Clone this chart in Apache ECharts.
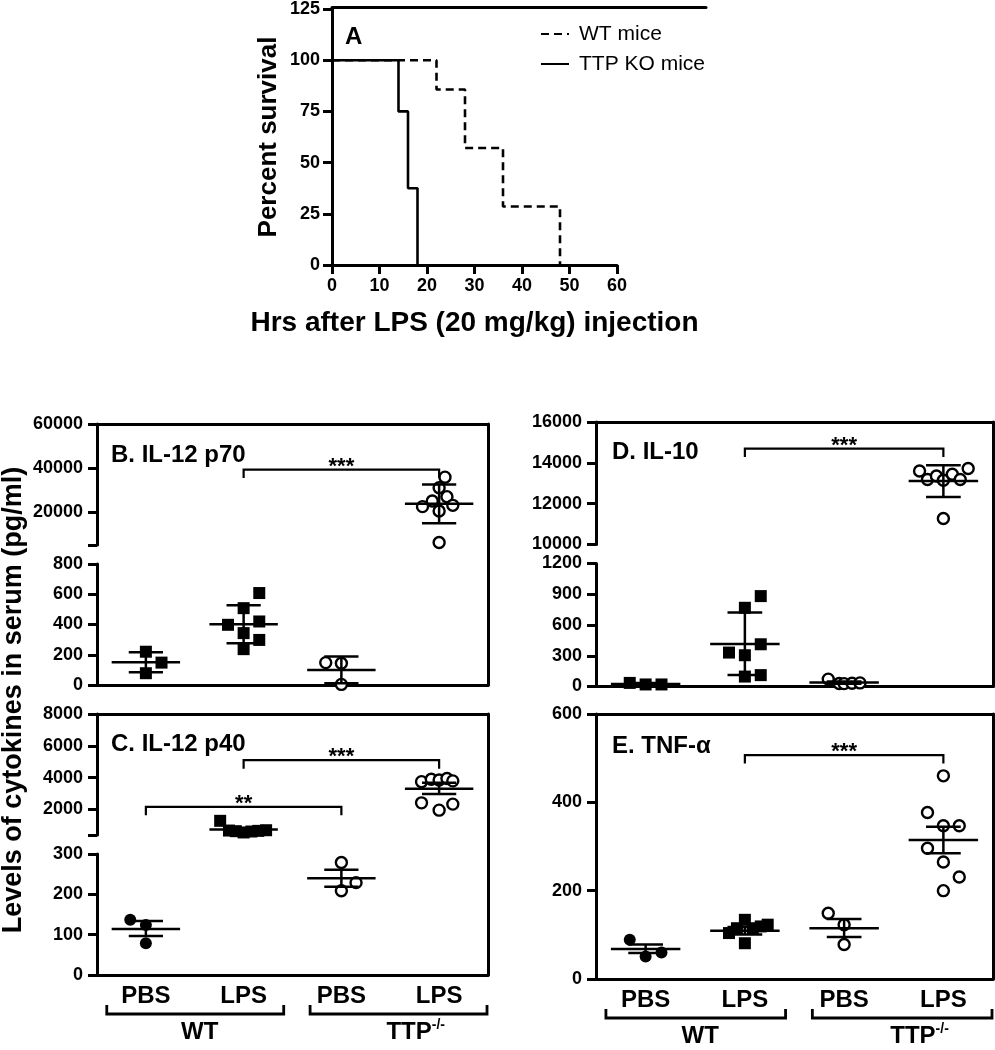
<!DOCTYPE html>
<html><head><meta charset="utf-8">
<script src="https://cdn.jsdelivr.net/npm/echarts@6/dist/echarts.min.js"></script>
<style>html,body{margin:0;padding:0;background:#fff}#c{width:995px;height:1050px}</style>
</head><body><div id="c"></div>
<script>
// ================= DATA =================
const categoryLabels = ['PBS', 'LPS', 'PBS', 'LPS'];
const genotypeLabels = ['WT', 'TTP'];
const genotypeSup = ['', '-/-'];
const genotypeSpan = [[0.60, 2.41, 1.55], [2.68, 4.49, 3.76]]; // from, to, label centre (category units)

// Panel A: survival
const wtHours = [0, 22, 28, 36, 48];
const wtSurvival = [100, 85.7, 57.1, 28.6, 0];
const koHours = [0, 14, 16, 18];
const koSurvival = [100, 75, 37.5, 0];

// Panel B: IL-12 p70
const p70Values = [
  [220, 148, 78],
  [608, 508, 398, 420, 343, 298, 237],
  [148, 144, 4],
  [35840, 31040, 24980, 26970, 22440, 23030, 20450, 6150]
];
const p70Jitter = [
  [0, 0.16, 0],
  [0.16, 0, -0.16, 0.16, 0, 0.16, 0],
  [-0.16, 0, 0],
  [0.06, 0, -0.07, 0.08, -0.17, 0.14, 0, 0]
];
const p70Mean = [150, 402, 99, 23800];
const p70Low = [84, 276, 12, 14890];
const p70High = [217, 528, 188, 32540];
const p70UpperTicks = [5000, 20000, 40000, 60000];
const p70UpperLabels = [20000, 40000, 60000];
const p70Sig = [[2, 4, 39300, '***']];

// Panel C: IL-12 p40
const p40Values = [
  [137, 124, 79],
  [1290, 680, 640, 560, 620, 660, 700],
  [279, 229, 209],
  [3750, 3900, 3850, 3950, 3800, 2420, 1960, 2340]
];
const p40Jitter = [
  [-0.16, 0, 0],
  [-0.24, -0.15, -0.08, 0, 0.08, 0.15, 0.23],
  [0, 0.15, 0],
  [-0.18, -0.08, 0, 0.08, 0.14, -0.18, 0, 0.14]
];
const p40Mean = [114, 740, 240, 3306];
const p40Low = [97, 650, 219, 2970];
const p40High = [134, 830, 261, 3685];
const p40UpperTicks = [400, 2000, 4000, 6000, 8000];
const p40UpperLabels = [2000, 4000, 6000, 8000];
const p40Sig = [[2, 4, 5100, '***'], [1, 3, 2170, '**']];

// Panel D: IL-10
const il10Values = [
  [35, 20, 20],
  [882, 768, 412, 331, 305, 97, 111],
  [72, 30, 28, 32, 35],
  [13602, 13181, 13357, 13147, 13440, 13181, 13719, 11272]
];
const il10Jitter = [
  [-0.16, 0, 0.16],
  [0.16, 0, 0.16, -0.16, 0, 0, 0.16],
  [-0.16, -0.05, 0, 0.08, 0.16],
  [-0.24, -0.16, -0.07, 0, 0.09, 0.17, 0.25, 0]
];
const il10Mean = [25, 415, 39, 13113];
const il10Low = [17, 111, 28, 12330];
const il10High = [33, 723, 50, 13881];
const il10Sig = [[2, 4, 14700, '***']];

// Panel E: TNF-alpha
const tnfValues = [
  [89, 51, 60],
  [104, 115, 134, 81, 115, 119, 123],
  [149, 123, 78],
  [460, 377, 347, 347, 296, 265, 231, 200]
];
const tnfJitter = [
  [-0.16, 0, 0.16],
  [-0.16, -0.08, 0, 0, 0.08, 0.16, 0.23],
  [-0.16, 0, 0],
  [0, -0.16, 0, 0.16, -0.16, 0, 0.16, 0]
];
const tnfMean = [68, 109, 115, 315];
const tnfLow = [59, 101, 95, 285];
const tnfHigh = [78, 118, 136, 345];
const tnfSig = [[2, 4, 507, '***']];

// ================= STYLE / HELPERS =================
const FF = "'Liberation Sans', Arial, sans-serif";
const BLACK = '#000';
const plain = v => String(v);
const axLine = { show: true, onZero: false, lineStyle: { color: BLACK, width: 3 } };
const noLine = { show: false };
const axTick = { show: true, length: 9, lineStyle: { color: BLACK, width: 3 } };
const axLab = { show: true, color: BLACK, fontSize: 18, fontWeight: 'bold', fontFamily: FF, margin: 14, formatter: plain };
const noSplit = { show: false };

const FILL_SQ = { symbol: 'rect', symbolSize: 12, itemStyle: { color: BLACK, opacity: 1 } };
const FILL_CI = { symbol: 'circle', symbolSize: 12, itemStyle: { color: BLACK, opacity: 1 } };
const OPEN_CI = { symbol: 'circle', symbolSize: 11, itemStyle: { color: '#fff', borderColor: BLACK, borderWidth: 2.4, opacity: 1 } };

function errRender(params, api) {
  const x = api.value(0), m = api.value(1), lo = api.value(2), hi = api.value(3);
  const a = api.coord([x - 0.35, m]), b = api.coord([x + 0.35, m]);
  const t = api.coord([x, hi]), bt = api.coord([x, lo]);
  const c1 = api.coord([x - 0.175, hi]), c2 = api.coord([x + 0.175, hi]);
  const d1 = api.coord([x - 0.175, lo]), d2 = api.coord([x + 0.175, lo]);
  const st = { stroke: BLACK, lineWidth: 2.5 };
  return { type: 'group', children: [
    { type: 'line', shape: { x1: a[0], y1: a[1], x2: b[0], y2: b[1] }, style: st },
    { type: 'line', shape: { x1: t[0], y1: t[1], x2: bt[0], y2: bt[1] }, style: st },
    { type: 'line', shape: { x1: c1[0], y1: c1[1], x2: c2[0], y2: c2[1] }, style: st },
    { type: 'line', shape: { x1: d1[0], y1: d1[1], x2: d2[0], y2: d2[1] }, style: st }
  ]};
}

function sigRender(params, api) {
  const x1 = api.value(0), x2 = api.value(1), y = api.value(2);
  const p1 = api.coord([x1, y]), p2 = api.coord([x2, y]);
  const drop = 8.5;
  const txt = params.context.sigText[params.dataIndex];
  return { type: 'group', children: [
    { type: 'polyline', shape: { points: [[p1[0], p1[1] + drop], [p1[0], p1[1]], [p2[0], p2[1]], [p2[0], p2[1] + drop]] },
      style: { stroke: BLACK, lineWidth: 2.2, fill: null } },
    { type: 'text', style: { text: txt, x: (p1[0] + p2[0]) / 2, y: p1[1] - 3, align: 'center', verticalAlign: 'middle',
      font: 'bold 22px ' + FF, fill: BLACK } }
  ]};
}

function groupRender(params, api) {
  const i = params.dataIndex;
  const p1 = api.coord([api.value(0), 0]), p2 = api.coord([api.value(1), 0]), pl = api.coord([api.value(2), 0]);
  const base = p1[1];
  const top = base + 30, bot = base + 39;
  const text = '{g|' + genotypeLabels[i] + '}' + (genotypeSup[i] ? '{s|' + genotypeSup[i] + '}' : '');
  return { type: 'group', children: [
    { type: 'polyline', shape: { points: [[p1[0], top], [p1[0], bot], [p2[0], bot], [p2[0], top]] },
      style: { stroke: BLACK, lineWidth: 2.8, fill: null } },
    { type: 'text', style: { text: text, x: pl[0], y: base + 57, align: 'center', verticalAlign: 'middle',
      rich: { g: { fontSize: 24, fontWeight: 'bold', fontFamily: FF, fill: BLACK, lineHeight: 28 },
              s: { fontSize: 14, fontWeight: 'bold', fontFamily: FF, fill: BLACK, lineHeight: 28, verticalAlign: 'top' } } } }
  ]};
}

function buildPanel(p) {
  const series = [];
  for (let g = 0; g < 4; g++) {
    const cat = g + 1;
    const all = p.values[g].map((v, i) => [cat + p.jitter[g][i], v]);
    const up = all.filter(d => d[1] > p.split);
    const lo = all.filter(d => d[1] <= p.split);
    if (up.length) series.push(Object.assign({ type: 'scatter', xAxisIndex: p.ux, yAxisIndex: p.uy, data: up, z: 3, silent: true }, p.marks[g]));
    if (lo.length) series.push(Object.assign({ type: 'scatter', xAxisIndex: p.lx, yAxisIndex: p.ly, data: lo, z: 3, silent: true }, p.marks[g]));
  }
  const eb = [0, 1, 2, 3].map(g => [g + 1, p.mean[g], p.low[g], p.high[g]]);
  const ebUp = eb.filter(d => d[1] > p.split), ebLo = eb.filter(d => d[1] <= p.split);
  if (ebUp.length) series.push({ type: 'custom', renderItem: errRender, xAxisIndex: p.ux, yAxisIndex: p.uy, data: ebUp, z: 4, clip: false, silent: true, encode: { x: 0, y: 1 } });
  if (ebLo.length) series.push({ type: 'custom', renderItem: errRender, xAxisIndex: p.lx, yAxisIndex: p.ly, data: ebLo, z: 4, clip: false, silent: true, encode: { x: 0, y: 1 } });
  const sigUp = p.sig.filter(s => s[2] > p.split), sigLo = p.sig.filter(s => s[2] <= p.split);
  [[sigUp, p.ux, p.uy], [sigLo, p.lx, p.ly]].forEach(([arr, xi, yi]) => {
    if (!arr.length) return;
    const texts = arr.map(s => s[3]);
    series.push({ type: 'custom', xAxisIndex: xi, yAxisIndex: yi, clip: false, silent: true, z: 5,
      data: arr.map(s => [s[0], s[1], s[2]]), encode: { x: 0, y: 2 },
      renderItem: function (params, api) { params.context.sigText = texts; return sigRender(params, api); } });
  });
  if (p.groups) {
    series.push({ type: 'custom', xAxisIndex: p.lx, yAxisIndex: p.ly, clip: false, silent: true, z: 5,
      data: genotypeSpan, encode: { x: 0 }, renderItem: groupRender });
  }
  return series;
}

// ================= LAYOUT =================
const grids = [
  { left: 332, top: 7, width: 285, height: 258 },        // 0 A
  { left: 97, top: 424, width: 391, height: 121 },       // 1 B upper
  { left: 97, top: 564, width: 391, height: 121 },       // 2 B lower
  { left: 97, top: 424, width: 391, height: 261 },       // 3 B frame
  { left: 97, top: 714, width: 391, height: 121 },       // 4 C upper
  { left: 97, top: 854, width: 391, height: 121 },       // 5 C lower
  { left: 97, top: 714, width: 391, height: 261 },       // 6 C frame
  { left: 596, top: 422, width: 397, height: 122.5 },    // 7 D upper
  { left: 596, top: 563.5, width: 397, height: 123 },    // 8 D lower
  { left: 596, top: 422, width: 397, height: 264.5 },    // 9 D frame
  { left: 596, top: 714, width: 397, height: 265 },      // 10 E
  { left: 332, top: 7, width: 374, height: 258 }         // 11 A top rule (spans the legend too)
];

function catX(grid, opts) {
  return Object.assign({ type: 'value', gridIndex: grid, min: 0.5, max: 4.5, axisLine: noLine, axisTick: { show: false },
    axisLabel: { show: false }, splitLine: noSplit }, opts || {});
}
const catLabels = Object.assign({}, axLab, { fontSize: 24, margin: 9, customValues: [1, 2, 3, 4],
  formatter: v => categoryLabels[Math.round(v) - 1] });

const xNameStyle = { fontSize: 28, fontWeight: 'bold', fontFamily: FF, color: BLACK };
const yNameStyle = { fontSize: 26, fontWeight: 'bold', fontFamily: FF, color: BLACK };
const xAxes = [
  { type: 'value', gridIndex: 0, min: 0, max: 60, interval: 10, axisLine: axLine, axisTick: axTick,
    axisLabel: Object.assign({}, axLab, { margin: 12 }), splitLine: noSplit,
    name: 'Hrs after LPS (20 mg/kg) injection', nameLocation: 'middle', nameGap: 44, nameTextStyle: xNameStyle },   // 0
  { type: 'value', gridIndex: 11, position: 'top', min: 0, max: 1, axisLine: axLine, axisTick: { show: false }, axisLabel: { show: false }, splitLine: noSplit }, // 1
  catX(1),                                             // 2 B upper
  catX(2, { axisLine: axLine }),                       // 3 B lower
  catX(3, { position: 'top', axisLine: axLine }),      // 4 B frame
  catX(4),                                             // 5 C upper
  catX(5, { axisLine: axLine, axisLabel: catLabels }), // 6 C lower
  catX(6, { position: 'top', axisLine: axLine }),      // 7 C frame
  catX(7),                                             // 8 D upper
  catX(8, { axisLine: axLine }),                       // 9 D lower
  catX(9, { position: 'top', axisLine: axLine }),      // 10 D frame
  catX(10, { axisLine: axLine, axisLabel: catLabels }),// 11 E bottom
  catX(10, { position: 'top', axisLine: axLine })      // 12 E top
];

function valY(grid, min, max, interval, extra) {
  return Object.assign({ type: 'value', gridIndex: grid, min: min, max: max, interval: interval,
    axisLine: axLine, axisTick: axTick, axisLabel: axLab, splitLine: noSplit }, extra || {});
}
function frameY(grid) {
  return { type: 'value', gridIndex: grid, position: 'right', min: 0, max: 1, axisLine: axLine,
    axisTick: { show: false }, axisLabel: { show: false }, splitLine: noSplit };
}

const yAxes = [
  valY(0, 0, 125, 25, { axisLabel: Object.assign({}, axLab, { margin: 12 }), name: 'Percent survival', nameLocation: 'middle', nameGap: 50,
    nameTextStyle: yNameStyle }),                                                                // 0
  valY(1, 5000, 60000, null, { axisTick: Object.assign({}, axTick, { customValues: p70UpperTicks }),
    axisLabel: Object.assign({}, axLab, { customValues: p70UpperLabels }) }),                   // 1
  valY(2, 0, 800, 200),                                                                          // 2
  frameY(3),                                                                                     // 3
  valY(4, 400, 8000, null, { axisTick: Object.assign({}, axTick, { customValues: p40UpperTicks }),
    axisLabel: Object.assign({}, axLab, { customValues: p40UpperLabels }) }),                   // 4
  valY(5, 0, 300, 100),                                                                          // 5
  frameY(6),                                                                                     // 6
  valY(7, 10000, 16000, 2000),                                                                   // 7
  valY(8, 0, 1200, 300),                                                                         // 8
  frameY(9),                                                                                     // 9
  valY(10, 0, 600, 200),                                                                         // 10
  frameY(10),                                                                                    // 11
  { type: 'value', gridIndex: 11, show: false, min: 0, max: 1, splitLine: noSplit }              // 12
];

// ================= SERIES =================
let series = [
  { type: 'line', name: 'WT mice', xAxisIndex: 0, yAxisIndex: 0, step: 'end', symbol: 'none', silent: true,
    data: wtHours.map((h, i) => [h, wtSurvival[i]]), lineStyle: { color: BLACK, width: 2.6, type: [8, 5] }, itemStyle: { color: BLACK } },
  { type: 'line', name: 'TTP KO mice', xAxisIndex: 0, yAxisIndex: 0, step: 'end', symbol: 'none', silent: true,
    data: koHours.map((h, i) => [h, koSurvival[i]]), lineStyle: { color: BLACK, width: 2.6 }, itemStyle: { color: BLACK } }
];
series = series.concat(buildPanel({ values: p70Values, jitter: p70Jitter, mean: p70Mean, low: p70Low, high: p70High,
  sig: p70Sig, split: 800, ux: 2, uy: 1, lx: 3, ly: 2, marks: [FILL_SQ, FILL_SQ, OPEN_CI, OPEN_CI] }));
series = series.concat(buildPanel({ values: p40Values, jitter: p40Jitter, mean: p40Mean, low: p40Low, high: p40High,
  sig: p40Sig, split: 300, ux: 5, uy: 4, lx: 6, ly: 5, marks: [FILL_CI, FILL_SQ, OPEN_CI, OPEN_CI], groups: true }));
series = series.concat(buildPanel({ values: il10Values, jitter: il10Jitter, mean: il10Mean, low: il10Low, high: il10High,
  sig: il10Sig, split: 1200, ux: 8, uy: 7, lx: 9, ly: 8, marks: [FILL_SQ, FILL_SQ, OPEN_CI, OPEN_CI] }));
series = series.concat(buildPanel({ values: tnfValues, jitter: tnfJitter, mean: tnfMean, low: tnfLow, high: tnfHigh,
  sig: tnfSig, split: Infinity, ux: 11, uy: 10, lx: 11, ly: 10, marks: [FILL_CI, FILL_SQ, OPEN_CI, OPEN_CI], groups: true }));

const titleStyle = { fontSize: 24, fontWeight: 'bold', fontFamily: FF, color: BLACK };
const option = {
  animation: false,
  backgroundColor: '#fff',
  grid: grids,
  xAxis: xAxes,
  yAxis: yAxes,
  title: [
    { text: 'A', left: 345, top: 25, padding: 0, textStyle: titleStyle },
    { text: 'B. IL-12 p70', left: 111, top: 443, padding: 0, textStyle: titleStyle },
    { text: 'C. IL-12 p40', left: 111, top: 732, padding: 0, textStyle: titleStyle },
    { text: 'D. IL-10', left: 612, top: 440, padding: 0, textStyle: titleStyle },
    { text: 'E. TNF-α', left: 612, top: 734, padding: 0, textStyle: titleStyle }
  ],
  legend: {
    orient: 'vertical', left: 535, top: 18, itemWidth: 28, itemHeight: 14, itemGap: 8,
    data: ['WT mice', 'TTP KO mice'], selectedMode: false,
    itemStyle: { color: 'rgba(0,0,0,0)', borderWidth: 0 },
    textStyle: { fontSize: 21, fontFamily: FF, color: BLACK, lineHeight: 22, padding: [0, 0, 0, 5] }
  },
  graphic: [
    { type: 'text', x: 14, y: 700, rotation: Math.PI / 2,
      style: { text: 'Levels of cytokines in serum (pg/ml)', font: 'bold 27px ' + FF, fill: BLACK, align: 'center', verticalAlign: 'middle' } }
  ],
  series: series
};
const chart = echarts.init(document.getElementById('c'), null, { renderer: 'canvas' });
chart.setOption(option);
</script></body></html>
